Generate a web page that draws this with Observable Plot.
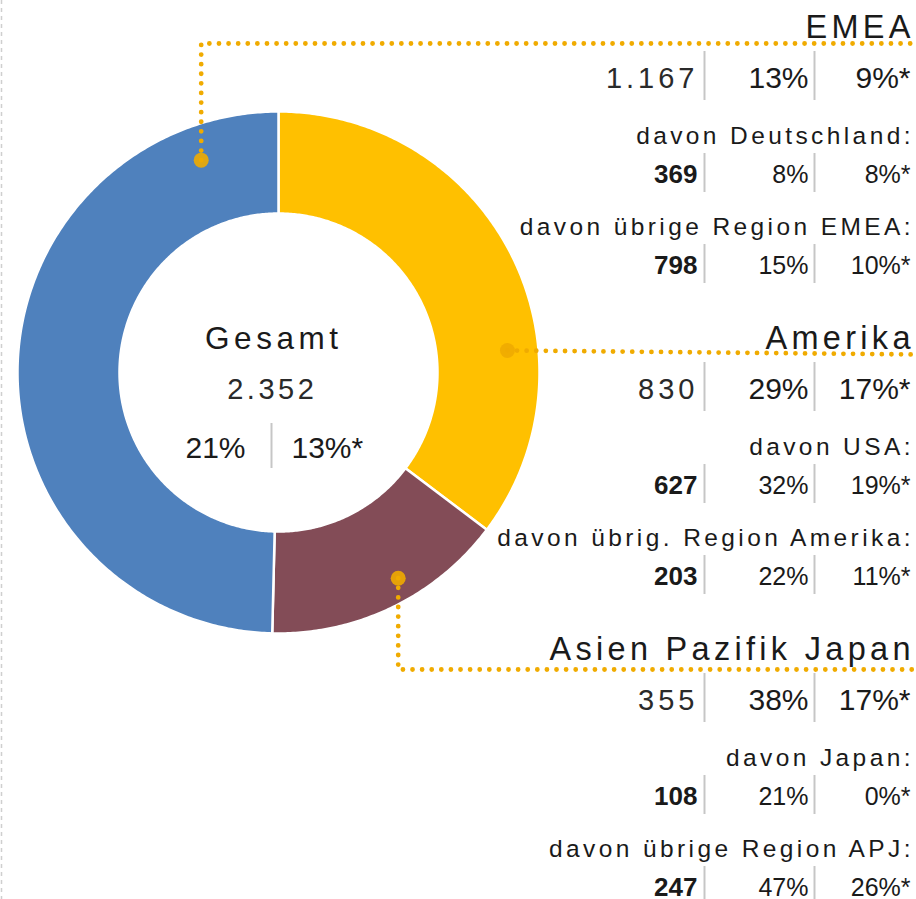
<!DOCTYPE html>
<html><head><meta charset="utf-8">
<script src="https://cdn.jsdelivr.net/npm/d3@7"></script>
<script src="https://cdn.jsdelivr.net/npm/@observablehq/plot@0.6"></script>
<style>html,body{margin:0;padding:0;background:#fff} svg{display:block}</style>
</head><body><div id="chart"></div>
<script>
// ---------- data ----------
const regions = ["EMEA", "Amerika", "Asien Pazifik Japan"];
const regionValues = [1167, 830, 355];
const regionGrowth = ["13%", "29%", "38%"];
const regionGrowthCC = ["9%*", "17%*", "17%*"];
const pieOrder = ["Amerika", "Asien Pazifik Japan", "EMEA"];
const regionColors = ["#4f81bd", "#ffc000", "#834c57"];

const subRegion = ["EMEA", "EMEA", "Amerika", "Amerika", "Asien Pazifik Japan", "Asien Pazifik Japan"];
const subLabels = ["davon Deutschland:", "davon übrige Region EMEA:", "davon USA:", "davon übrig. Region Amerika:", "davon Japan:", "davon übrige Region APJ:"];
const subValues = [369, 798, 627, 203, 108, 247];
const subGrowth = ["8%", "15%", "32%", "22%", "21%", "47%"];
const subGrowthCC = ["8%*", "10%*", "19%*", "11%*", "0%*", "26%*"];

const totalLabel = "Gesamt";
const totalValue = 2352;
const totalGrowth = "21%";
const totalGrowthCC = "13%*";

// ---------- layout ----------
const W = 916, H = 899;
const cx = 278, cy = 372, rOuter = 261, rInner = 159;
const FONT = "Liberation Sans, Arial, Helvetica, sans-serif";
const INK = "#1a1a1a";
const GOLD = "#f0ab00";
const SEP = "#c6c6c6";
const colValue = 696, colGrowth = 808, colCC = 910, textRight = 910;
const sepX = [704, 814];
const blockTop = i => 37 + 311 * i;
const LS = {titles: 4.3, sublabels: 3.4, mainvalues: 4, centerlabel: 4.5, centervalue: 3.5};
const leaderLayout = {
  "EMEA": {angle: 340, r: 226, turnY: 43},
  "Amerika": {angle: 84.5, r: 230, endY: 354},
  "Asien Pazifik Japan": {angle: 149.8, r: 238, turnY: 669}
};

const de = d3.formatLocale({decimal: ",", thousands: ".", grouping: [3], currency: ["", "€"]});
const fmt = de.format(",d");

// ---------- donut geometry from values ----------
const pieData = pieOrder.map(r => ({region: r, value: regionValues[regions.indexOf(r)]}));
const arcs = d3.pie().sort(null).value(d => d.value)(pieData);
const slicePts = arcs.flatMap(p => {
  const n = Math.max(4, Math.ceil((p.endAngle - p.startAngle) / 0.01));
  const angs = d3.range(n + 1).map(i => p.startAngle + (p.endAngle - p.startAngle) * i / n);
  const outer = angs.map(a => ({region: p.data.region, x: cx + rOuter * Math.sin(a), y: cy - rOuter * Math.cos(a)}));
  const inner = angs.slice().reverse().map(a => ({region: p.data.region, x: cx + rInner * Math.sin(a), y: cy - rInner * Math.cos(a)}));
  return outer.concat(inner);
});

// ---------- leaders ----------
const anchors = regions.map(r => {
  const L = leaderLayout[r];
  const a = L.angle * Math.PI / 180;
  return {region: r, x: cx + L.r * Math.sin(a), y: cy - L.r * Math.cos(a)};
});
const leaderPts = anchors.flatMap(a => {
  const L = leaderLayout[a.region];
  if (L.turnY != null) return [a, {region: a.region, x: a.x, y: L.turnY}, {region: a.region, x: W, y: L.turnY}];
  return [a, {region: a.region, x: W, y: L.endY}];
});

// ---------- table rows ----------
const titleRows = regions.map((r, i) => ({text: r, x: textRight + LS.titles, y: blockTop(i)}));
const mainValueRows = regions.map((r, i) => ({text: fmt(regionValues[i]), x: colValue - 2 + LS.mainvalues, y: blockTop(i) + 50}));
const mainPctRows = regions.flatMap((r, i) => [
  {text: regionGrowth[i], x: colGrowth, y: blockTop(i) + 50},
  {text: regionGrowthCC[i], x: colCC, y: blockTop(i) + 50}
]);
const subIdx = subLabels.map((s, j) => ({j, block: regions.indexOf(subRegion[j]), k: subRegion.slice(0, j).filter(r => r === subRegion[j]).length}));
const subLabelRows = subIdx.map(({j, block, k}) => ({text: subLabels[j], x: textRight + LS.sublabels, y: blockTop(block) + (k ? 197 : 106)}));
const subValueRows = subIdx.map(({j, block, k}) => ({text: fmt(subValues[j]), x: colValue + 1, y: blockTop(block) + (k ? 236 : 145)}));
const subPctRows = subIdx.flatMap(({j, block, k}) => [
  {text: subGrowth[j], x: colGrowth, y: blockTop(block) + (k ? 236 : 145)},
  {text: subGrowthCC[j], x: colCC, y: blockTop(block) + (k ? 236 : 145)}
]);
const sepRows = regions.flatMap((r, i) => sepX.map(x => ({x, y1: blockTop(i) + 14, y2: blockTop(i) + 63})))
  .concat(subIdx.flatMap(({block, k}) => sepX.map(x => {
    const base = blockTop(block) + (k ? 236 : 145);
    return {x, y1: base - 29, y2: Math.min(H, base + 10)};
  })));

const centerRows = [{text: totalLabel, x: 271 + LS.centerlabel / 2, y: 348}];
const centerValueRows = [{text: fmt(totalValue), x: 270 + LS.centervalue / 2, y: 398}];
const centerPctL = [{text: totalGrowth, x: 245, y: 457}];
const centerPctR = [{text: totalGrowthCC, x: 291, y: 457}];
const centerSep = [{x: 271, y1: 423, y2: 468}];

const txt = (data, opts) => Plot.text(data, Object.assign({x: "x", y: "y", text: "text", lineAnchor: "bottom", fill: INK, fontFamily: FONT}, opts));

const svg = Plot.plot({
  width: W, height: H, margin: 0,
  x: {domain: [0, W], range: [0, W], axis: null},
  y: {domain: [0, H], range: [0, H], axis: null},
  color: {domain: regions, range: regionColors},
  style: {background: "#fff"},
  marks: [
    Plot.ruleX([1], {stroke: "#cfcfcf", strokeWidth: 1.5, strokeDasharray: "4 4"}),
    Plot.line(slicePts, {x: "x", y: "y", z: "region", fill: "region", stroke: "white", strokeWidth: 2.5, curve: "linear-closed"}),
    Plot.line(leaderPts, {x: "x", y: "y", z: "region", stroke: GOLD, strokeWidth: 4.8, strokeDasharray: "0 9.6", strokeLinecap: "round", strokeLinejoin: "round"}),
    Plot.dot(anchors, {x: "x", y: "y", r: 7.5, fill: GOLD, fillOpacity: 0.9, stroke: "none"}),
    Plot.ruleX(sepRows, {x: "x", y1: "y1", y2: "y2", stroke: SEP, strokeWidth: 2}),
    Plot.ruleX(centerSep, {x: "x", y1: "y1", y2: "y2", stroke: SEP, strokeWidth: 2}),
    txt(titleRows, {textAnchor: "end", fontSize: 32.5, ariaDescription: "titles"}),
    txt(mainValueRows, {textAnchor: "end", fontSize: 29, ariaDescription: "mainvalues", fill: "#2a2a2a"}),
    txt(mainPctRows, {textAnchor: "end", fontSize: 30, ariaDescription: "mainpct"}),
    txt(subLabelRows, {textAnchor: "end", fontSize: 24.5, ariaDescription: "sublabels"}),
    txt(subValueRows, {textAnchor: "end", fontSize: 26, fontWeight: "bold", ariaDescription: "subvalues"}),
    txt(subPctRows, {textAnchor: "end", fontSize: 25, ariaDescription: "subpct"}),
    txt(centerRows, {textAnchor: "middle", fontSize: 31.5, ariaDescription: "centerlabel"}),
    txt(centerValueRows, {textAnchor: "middle", fontSize: 29, ariaDescription: "centervalue", fill: "#2a2a2a"}),
    txt(centerPctL, {textAnchor: "end", fontSize: 30, ariaDescription: "centerpctl"}),
    txt(centerPctR, {textAnchor: "start", fontSize: 30, ariaDescription: "centerpctr"})
  ]
});

for (const [name, ls] of Object.entries(LS)) {
  svg.querySelectorAll(`g[aria-description="${name}"] text`).forEach(t => t.setAttribute("letter-spacing", ls));
}
document.getElementById("chart").appendChild(svg);
</script>
</body></html>
